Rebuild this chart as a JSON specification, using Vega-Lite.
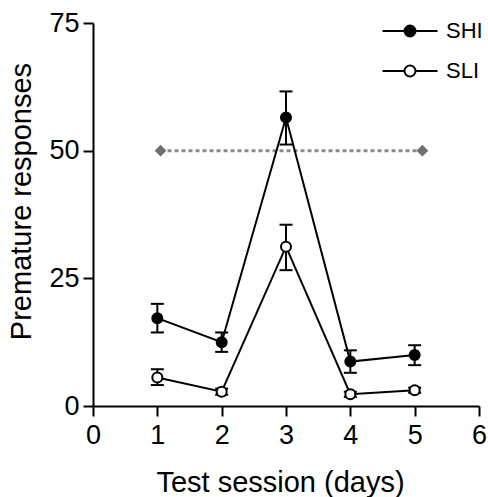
{
  "$schema": "https://vega.github.io/schema/vega-lite/v6.json",
  "width": 386,
  "height": 383,
  "autosize": {"type": "none"},
  "padding": {"left": 93, "top": 23, "right": 9, "bottom": 91},
  "config": {
    "font": "Liberation Sans",
    "view": {"stroke": null},
    "axis": {
      "grid": false,
      "domainColor": "#000",
      "domainWidth": 2,
      "tickColor": "#000",
      "tickWidth": 2,
      "tickSize": 10,
      "labelColor": "#000",
      "labelFontSize": 27,
      "labelFont": "Liberation Sans",
      "titleFont": "Liberation Sans",
      "titleFontSize": 29,
      "titleFontWeight": "normal",
      "titleColor": "#000"
    }
  },
  "datasets": {
    "groups": [
      {"day": 1, "group": "SHI", "mean": 17.2, "lo": 14.4, "hi": 20.0},
      {"day": 2, "group": "SHI", "mean": 12.5, "lo": 10.6, "hi": 14.4},
      {"day": 3, "group": "SHI", "mean": 56.5, "lo": 51.2, "hi": 61.6},
      {"day": 4, "group": "SHI", "mean": 8.7, "lo": 6.5, "hi": 10.9},
      {"day": 5, "group": "SHI", "mean": 10.0, "lo": 8.0, "hi": 11.9},
      {"day": 1, "group": "SLI", "mean": 5.6, "lo": 4.1, "hi": 7.2},
      {"day": 2, "group": "SLI", "mean": 2.8, "lo": 2.2, "hi": 3.4},
      {"day": 3, "group": "SLI", "mean": 31.2, "lo": 26.6, "hi": 35.5},
      {"day": 4, "group": "SLI", "mean": 2.3, "lo": 1.8, "hi": 2.8},
      {"day": 5, "group": "SLI", "mean": 3.1, "lo": 2.6, "hi": 3.6}
    ],
    "ref": [
      {"day": 1.05, "value": 50},
      {"day": 5.12, "value": 50}
    ]
  },
  "layer": [
    {
      "data": {"name": "ref"},
      "mark": {"type": "line", "color": "#8a8a8a", "strokeWidth": 3, "strokeDash": [4, 3]},
      "encoding": {
        "x": {"field": "day", "type": "quantitative"},
        "y": {"field": "value", "type": "quantitative"}
      }
    },
    {
      "data": {"name": "ref"},
      "mark": {"type": "point", "shape": "diamond", "filled": true, "color": "#707070", "size": 140, "opacity": 1},
      "encoding": {
        "x": {"field": "day", "type": "quantitative"},
        "y": {"field": "value", "type": "quantitative"}
      }
    },
    {
      "data": {"name": "groups"},
      "mark": {"type": "rule", "color": "#000", "strokeWidth": 2},
      "encoding": {
        "x": {"field": "day", "type": "quantitative"},
        "y": {"field": "lo", "type": "quantitative"},
        "y2": {"field": "hi"}
      }
    },
    {
      "data": {"name": "groups"},
      "mark": {"type": "tick", "orient": "horizontal", "color": "#000", "size": 13, "thickness": 2, "opacity": 1},
      "encoding": {
        "x": {"field": "day", "type": "quantitative"},
        "y": {"field": "lo", "type": "quantitative"}
      }
    },
    {
      "data": {"name": "groups"},
      "mark": {"type": "tick", "orient": "horizontal", "color": "#000", "size": 13, "thickness": 2, "opacity": 1},
      "encoding": {
        "x": {"field": "day", "type": "quantitative"},
        "y": {"field": "hi", "type": "quantitative"}
      }
    },
    {
      "data": {"name": "groups"},
      "mark": {"type": "line", "color": "#000", "strokeWidth": 2},
      "encoding": {
        "x": {"field": "day", "type": "quantitative"},
        "y": {"field": "mean", "type": "quantitative"},
        "detail": {"field": "group"}
      }
    },
    {
      "data": {"name": "groups"},
      "mark": {"type": "point", "shape": "circle", "stroke": "#000", "strokeWidth": 2, "size": 100, "opacity": 1},
      "encoding": {
        "x": {
          "field": "day", "type": "quantitative",
          "scale": {"domain": [0, 6], "nice": false, "zero": false},
          "axis": {"values": [0, 1, 2, 3, 4, 5, 6], "format": "d", "title": "Test session (days)", "labelPadding": 6, "titlePadding": 20, "labelFlush": false, "titleX": 187}
        },
        "y": {
          "field": "mean", "type": "quantitative",
          "scale": {"domain": [0, 75], "nice": false},
          "axis": {"values": [0, 25, 50, 75], "format": "d", "title": "Premature responses", "labelPadding": 4, "titlePadding": 12, "titleY": 178}
        },
        "fill": {
          "field": "group", "type": "nominal",
          "scale": {"domain": ["SHI", "SLI"], "range": ["#000", "#fff"]},
          "legend": {
            "title": null,
            "orient": "none",
            "legendX": 306,
            "legendY": -3,
            "symbolType": "M-5,0H-1M1,0H5M-1,0A1,1,0,1,1,1,0A1,1,0,1,1,-1,0Z",
            "symbolSize": 121,
            "symbolStrokeColor": "#000",
            "symbolStrokeWidth": 2,
            "symbolOpacity": 1,
            "labelFontSize": 22,
            "labelColor": "#000",
            "labelOffset": 25,
            "rowPadding": 18
          }
        }
      }
    }
  ]
}
